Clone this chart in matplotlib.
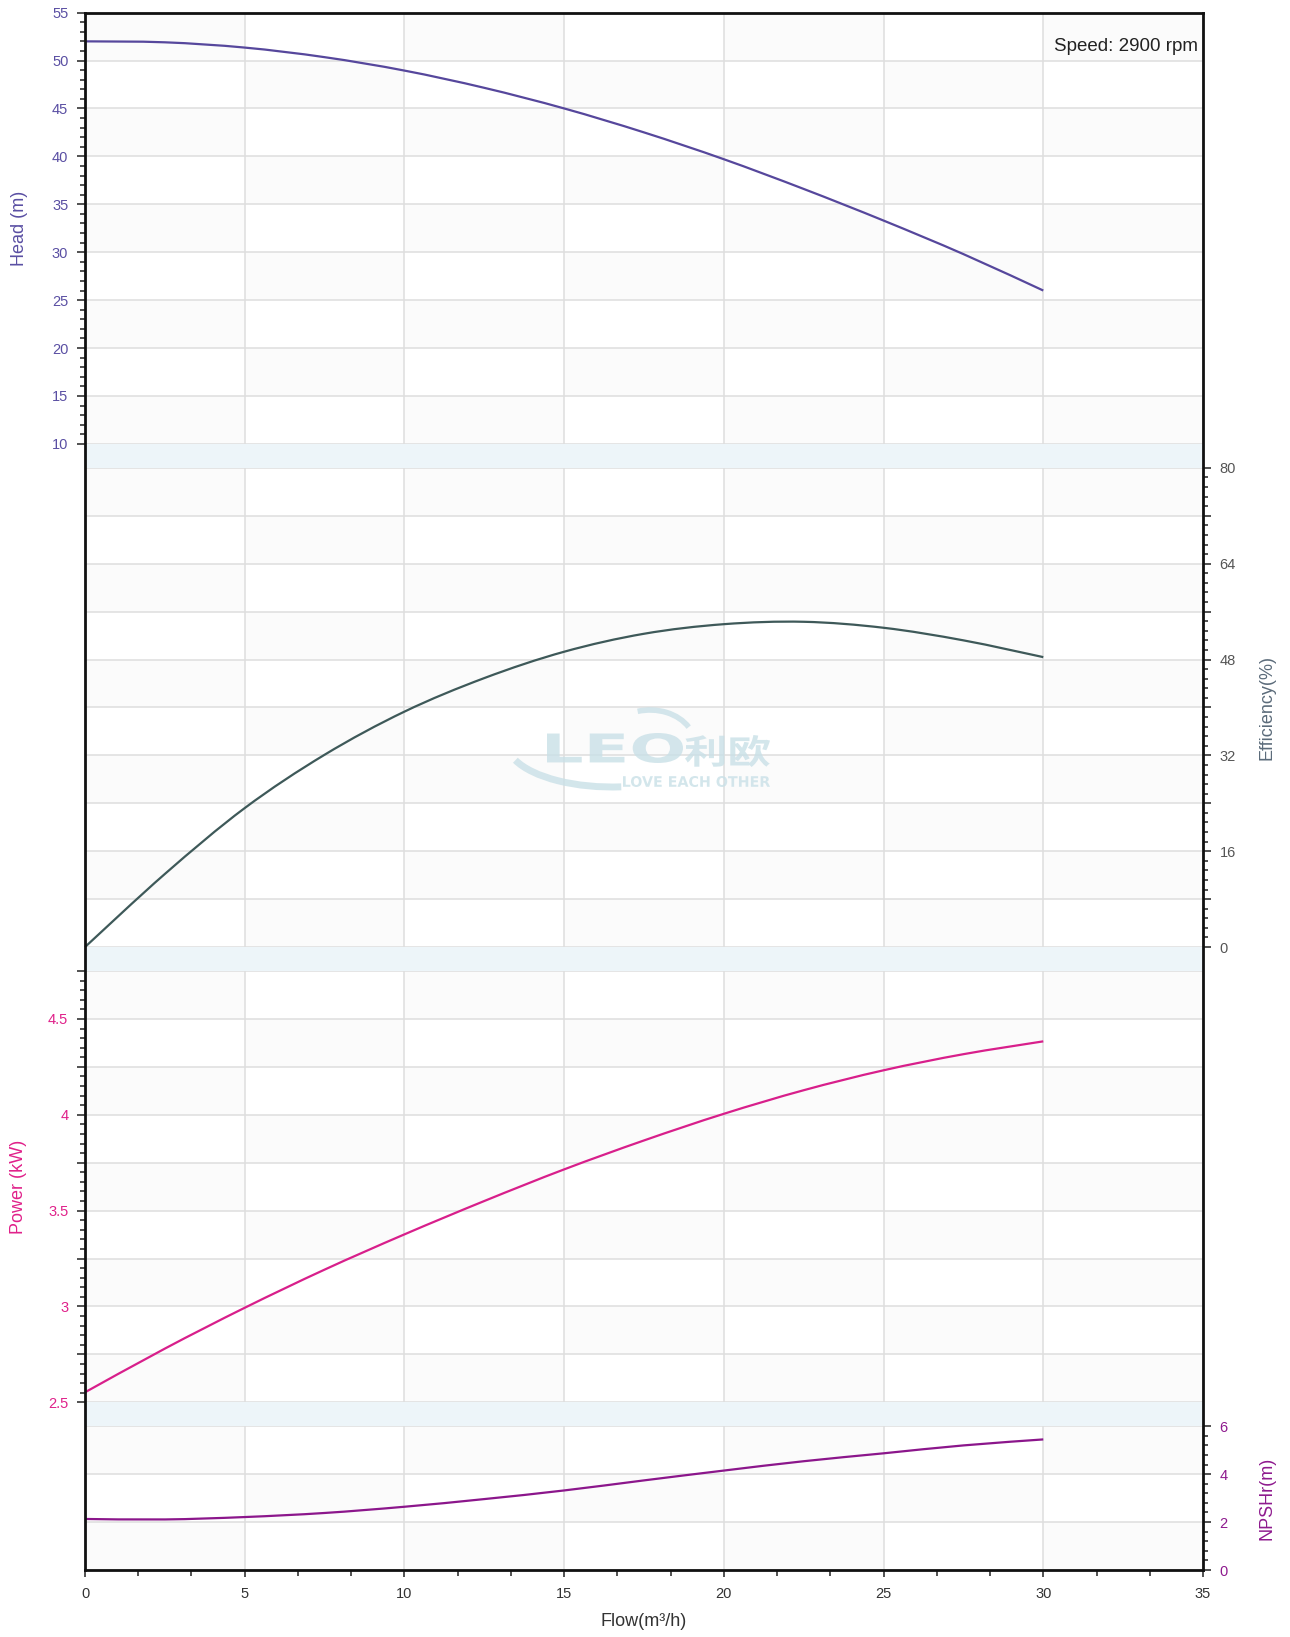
import matplotlib.pyplot as plt
from matplotlib.patches import Rectangle, PathPatch, Arc
from matplotlib.path import Path
from matplotlib.ticker import MultipleLocator, FuncFormatter
from matplotlib.textpath import TextPath
from matplotlib.font_manager import FontProperties
from matplotlib.transforms import Affine2D

plt.rcParams['font.family'] = ['Liberation Sans', 'DejaVu Sans']

# pump curve readings (flow in m3/h)
flow = [0, 2.5, 5, 7.5, 10, 12.5, 15, 17.5, 20, 22.5, 25, 27.5, 30]
head = [52.0, 51.9, 51.35, 50.35, 48.95, 47.15, 45.0, 42.5, 39.7, 36.6, 33.3, 29.8, 26.0]
efficiency = [0, 12.2, 23.2, 32.1, 39.3, 44.9, 49.3, 52.3, 53.9, 54.3, 53.3, 51.2, 48.4]
power = [2.552, 2.78, 2.993, 3.192, 3.376, 3.55, 3.715, 3.866, 4.005, 4.128, 4.232, 4.316, 4.383]
npsh = [2.13, 2.11, 2.21, 2.38, 2.64, 2.96, 3.32, 3.74, 4.15, 4.54, 4.87, 5.2, 5.45]

speed_text = "Speed: 2900 rpm"
x_label = "Flow(m³/h)"

W, H = 1290, 1637
fig = plt.figure(figsize=(W / 100, H / 100), dpi=100)

left_px, right_px = 85, 1203
top_px, cell_px = 12.6, 47.92
band_color = '#edf5f9'
grid_color = '#dedede'
shade_color = '#fbfbfb'

panels = [
    # values, ylim, major, minor, label step, side, curve colour, label colour, ylabel
    (head, (10, 55), 5, 1, 5, 'left', '#56479c', '#5a4fa3', 'Head (m)'),
    (efficiency, (0, 80), 8, 1.6, 16, 'right', '#3e5959', '#555555', 'Efficiency(%)'),
    (power, (2.5, 4.75), 0.25, 0.05, 0.5, 'left', '#d81f8b', '#e0218a', 'Power (kW)'),
    (npsh, (0, 6), 2, 0.4, 2, 'right', '#8b168b', '#8e1a8e', 'NPSHr(m)'),
]


def fx(px):
    return px / W


def fy(py):
    return 1 - py / H


def spline(ax, xs, ys, **kw):
    # smooth curve through the points (Catmull-Rom as cubic Bezier)
    pts = list(zip(xs, ys))
    n = len(pts)
    verts = [pts[0]]
    codes = [Path.MOVETO]
    for i in range(n - 1):
        p0, p1 = pts[max(i - 1, 0)], pts[i]
        p2, p3 = pts[i + 1], pts[min(i + 2, n - 1)]
        c1 = (p1[0] + (p2[0] - p0[0]) / 6, p1[1] + (p2[1] - p0[1]) / 6)
        c2 = (p2[0] - (p3[0] - p1[0]) / 6, p2[1] - (p3[1] - p1[1]) / 6)
        verts += [c1, c2, p2]
        codes += [Path.CURVE4] * 3
    ax.add_patch(PathPatch(Path(verts, codes), fill=False, **kw))


# light blue background that shows between the panels
fig.add_artist(Rectangle((fx(left_px), fy(1570)), fx(right_px - left_px), (1570 - top_px) / H,
                         transform=fig.transFigure, color=band_color, zorder=-1, lw=0))

y = top_px
for values, (lo, hi), major, minor, lstep, side, color, lcolor, ylabel in panels:
    rows = int(round((hi - lo) / major))
    bottom = y + rows * cell_px
    ax = fig.add_axes([fx(left_px), fy(bottom), fx(right_px - left_px), (bottom - y) / H])
    ax.set_xlim(0, 35)
    ax.set_ylim(lo, hi)
    for s in ax.spines.values():
        s.set_visible(False)

    # checkerboard shading
    for i in range(rows):
        for j in range(7):
            if (i + j) % 2 == 0:
                ax.add_patch(Rectangle((5 * j, hi - (i + 1) * major), 5, major,
                                       color=shade_color, lw=0, zorder=0))

    ax.set_xticks(range(0, 36, 5))
    ax.yaxis.set_major_locator(MultipleLocator(major))
    ax.yaxis.set_minor_locator(MultipleLocator(minor))
    ax.yaxis.set_major_formatter(FuncFormatter(
        lambda v, p, st=lstep: '%g' % round(v, 3) if abs(v / st - round(v / st)) < 1e-6 else ''))
    ax.set_axisbelow(True)
    ax.grid(True, color=grid_color, lw=1.1)
    ax.tick_params(axis='x', length=0, labelbottom=False)
    if side == 'right':
        ax.yaxis.tick_right()
    else:
        ax.yaxis.tick_left()
    ax.tick_params(axis='y', which='major', length=6, width=1.1, color='#222222',
                   labelcolor=lcolor, labelsize=10.5, pad=6)
    ax.tick_params(axis='y', which='minor', length=3.5, width=1.1, color='#222222')

    spline(ax, flow, values, edgecolor=color, lw=1.6, zorder=3, clip_on=False)

    cy = fy((y + bottom) / 2)
    if side == 'left':
        fig.text(fx(19), cy, ylabel, rotation=90, ha='center', va='center', color=lcolor, fontsize=13)
    else:
        lab_col = '#5b6b7a' if ylabel.startswith('Eff') else lcolor
        fig.text(fx(1267), cy, ylabel, rotation=90, ha='center', va='center', color=lab_col, fontsize=13)

    y = bottom + 0.5 * cell_px

# frame with flow axis on top of everything
frame = fig.add_axes([fx(left_px), fy(1570), fx(right_px - left_px), (1570 - top_px) / H],
                     facecolor='none', zorder=5)
frame.set_xlim(0, 35)
frame.set_yticks([])
frame.xaxis.set_major_locator(MultipleLocator(5))
frame.xaxis.set_minor_locator(MultipleLocator(5 / 3))
frame.tick_params(axis='x', which='major', length=5, width=1.1, color='#222222',
                  labelsize=10.5, labelcolor='#333333', pad=7)
frame.tick_params(axis='x', which='minor', length=4.5, width=1.1, color='#222222')
for s in frame.spines.values():
    s.set_linewidth(2)
    s.set_color('#111111')

fig.text(fx(644), fy(1622), x_label, ha='center', va='center', fontsize=13, color='#333333')
fig.text(fx(1198), fy(46.5), speed_text, ha='right', va='center', fontsize=13.5, color='#222222')


# watermark
def stamp(text, box, family):
    prop = FontProperties(family=family, weight='bold')
    tp = TextPath((0, 0), text, size=1, prop=prop)
    bb = tp.get_extents()
    x0, y0, x1, y1 = box
    tr = (Affine2D().translate(-bb.x0, -bb.y0)
          .scale((x1 - x0) / bb.width / W, (y1 - y0) / bb.height / H)
          .translate(fx(x0), fy(y1)))
    fig.add_artist(PathPatch(tr.transform_path(tp), transform=fig.transFigure,
                             color='#c9e0e7', alpha=0.8, lw=0, zorder=4))


stamp("LEO", (547, 733, 683, 763), 'DejaVu Sans')
stamp("利欧", (685, 735, 770, 767), 'Noto Sans CJK SC')
stamp("LOVE EACH OTHER", (623, 776, 770, 787), 'DejaVu Sans')
fig.add_artist(Arc((fx(612), fy(743)), fx(210), 88 / H, theta1=188, theta2=285,
                   transform=fig.transFigure, color='#c9e0e7', lw=5, alpha=0.8, zorder=4))
fig.add_artist(Arc((fx(650), fy(745)), fx(90), 70 / H, theta1=20, theta2=115,
                   transform=fig.transFigure, color='#c9e0e7', lw=4, alpha=0.8, zorder=4))

fig.savefig('out.png', dpi=100)
